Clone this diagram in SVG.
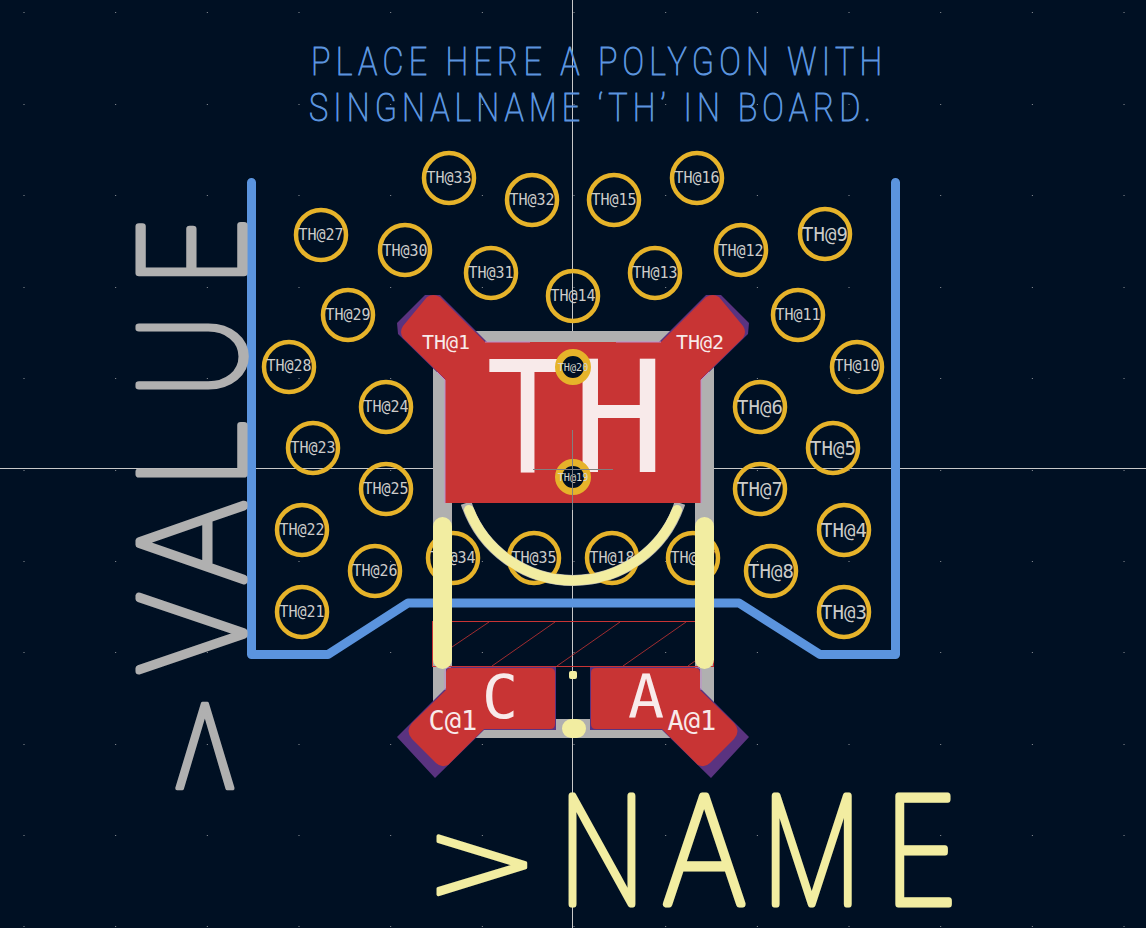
<svg xmlns="http://www.w3.org/2000/svg" xmlns:xlink="http://www.w3.org/1999/xlink" width="1146" height="928" viewBox="0 0 1146 928">
<style>
.c{fill:none;stroke:#e6b32a;stroke-width:4.5}
.v{fill:#001023;stroke:#e6b32a;stroke-width:7}
text{font-family:"DejaVu Sans Mono","Liberation Mono",monospace}
.l{fill:#cfcecb;font-size:15px;text-anchor:middle;opacity:.99}
.m{fill:#cfcecb;font-size:19px;text-anchor:middle;opacity:.99}
.s{fill:#d8d8d0;font-size:10.2px;text-anchor:middle;opacity:.99}
.p{fill:#f8eaea;font-size:20px;text-anchor:middle}
.q{fill:#f8eaea;font-size:27px;text-anchor:middle}
.b{fill:#f8eaea;text-anchor:middle}
.note{font-family:Roboto,Inter,sans-serif;font-weight:100;font-size:38px;fill:#5b94de;stroke:#5b94de;stroke-width:1}
.big{font-family:Inter,Roboto,sans-serif;font-weight:100;stroke-linejoin:round;stroke-linecap:round}
.gt{font-family:"DejaVu Sans",sans-serif;stroke-width:3.5}
</style>
<defs>
<g id="tp"><path fill="#5a3380" d="M397 323L425 295H440L487 342H520V380H445L398 334Z"/>
<path fill="#c83434" d="M427 297Q433 293 440 297L485 342H573V503H445V379L403 338Q399 332 403 326Z"/>
<path fill="none" stroke="#c08ccc" d="M437 372L445 380V503M485 342H530"/></g>
<g id="bp"><path fill="#5a3380" d="M446 667H556V730H484L435 778L397 737L446 688Z"/>
<path fill="#c83434" d="M451 668H550Q555 668 555 673V724Q555 729 550 729H484L448 765Q441 768 436 763L412 739Q405 731 412 723L446 690V673Q446 668 451 668Z"/>
<path fill="none" stroke="#c08ccc" d="M445 690V672Q445 667 451 667"/></g>
</defs>
<rect width="1146" height="928" fill="#001023"/>
<path id="grid" fill="none" stroke="#8f949a" stroke-width="1" stroke-dasharray="1 90.67" d="M23.5 12.5H1146M23.5 104.5H1146M23.5 195.5H1146M23.5 287.5H1146M23.5 378.5H1146M23.5 470.5H1146M23.5 561.5H1146M23.5 652.5H1146M23.5 744.5H1146M23.5 835.5H1146M23.5 926.5H1146"/>
<path id="axes" fill="none" stroke="#c8c8c8" stroke-width="1" d="M572.5 0V928M0 468.5H1146"/>
<g id="fab" fill="none" stroke="#b0b0b0">
<rect x="442.5" y="340.5" width="262" height="388" stroke-width="19"/>
<path d="M466.1 503A112.500 112.500 0 0 0 679.900 503" stroke-width="11"/>
</g>
<g id="padTH1"><use xlink:href="#tp" href="#tp"/><use xlink:href="#tp" href="#tp" transform="matrix(-1 0 0 1 1146 0)"/></g>
<g id="padC"><use xlink:href="#bp" href="#bp"/></g>
<g id="padA"><use xlink:href="#bp" href="#bp" transform="matrix(-1 0 0 1 1146 0)"/></g>
<g id="labels">
<text class="p" x="446" y="349">TH@1</text>
<text class="p" x="700" y="349">TH@2</text>
<text class="b" font-size="155" y="472"><tspan x="527.500" textLength="82.600" lengthAdjust="spacingAndGlyphs">T</tspan><tspan x="619">H</tspan></text>
<text class="b" x="500" y="718" font-size="60">C</text>
<text class="b" x="646" y="718" font-size="60">A</text>
<text class="q" x="453" y="730">C@1</text>
<text class="q" x="692" y="730">A@1</text>
</g>
<g id="vias">
<g id="th33"><circle class="c" cx="449" cy="178" r="25"/><text class="l" x="449" y="183">TH@33</text></g>
<g id="th32"><circle class="c" cx="532" cy="200" r="25"/><text class="l" x="532" y="205">TH@32</text></g>
<g id="th15"><circle class="c" cx="614" cy="200" r="25"/><text class="l" x="614" y="205">TH@15</text></g>
<g id="th16"><circle class="c" cx="697" cy="178" r="25"/><text class="l" x="697" y="183">TH@16</text></g>
<g id="th27"><circle class="c" cx="321" cy="235" r="25"/><text class="l" x="321" y="240">TH@27</text></g>
<g id="th30"><circle class="c" cx="405" cy="250" r="25"/><text class="l" x="405" y="256">TH@30</text></g>
<g id="th31"><circle class="c" cx="491" cy="273" r="25"/><text class="l" x="491" y="278">TH@31</text></g>
<g id="th14"><circle class="c" cx="573" cy="296" r="25"/><text class="l" x="573" y="301">TH@14</text></g>
<g id="th13"><circle class="c" cx="655" cy="273" r="25"/><text class="l" x="655" y="278">TH@13</text></g>
<g id="th12"><circle class="c" cx="741" cy="250" r="25"/><text class="l" x="741" y="256">TH@12</text></g>
<g id="th9"><circle class="c" cx="825" cy="234" r="25"/><text class="m" x="825" y="241">TH@9</text></g>
<g id="th29"><circle class="c" cx="348" cy="315" r="25"/><text class="l" x="348" y="320">TH@29</text></g>
<g id="th11"><circle class="c" cx="798" cy="315" r="25"/><text class="l" x="798" y="320">TH@11</text></g>
<g id="th28"><circle class="c" cx="289" cy="367" r="25"/><text class="l" x="289" y="371">TH@28</text></g>
<g id="th10"><circle class="c" cx="857" cy="367" r="25"/><text class="l" x="857" y="371">TH@10</text></g>
<g id="th24"><circle class="c" cx="386" cy="407" r="25"/><text class="l" x="386" y="412">TH@24</text></g>
<g id="th6"><circle class="c" cx="760" cy="407" r="25"/><text class="m" x="760" y="414">TH@6</text></g>
<g id="th23"><circle class="c" cx="313" cy="448" r="25"/><text class="l" x="313" y="453">TH@23</text></g>
<g id="th5"><circle class="c" cx="833" cy="448" r="25"/><text class="m" x="833" y="455">TH@5</text></g>
<g id="th25"><circle class="c" cx="386" cy="489" r="25"/><text class="l" x="386" y="494">TH@25</text></g>
<g id="th7"><circle class="c" cx="760" cy="489" r="25"/><text class="m" x="760" y="496">TH@7</text></g>
<g id="th22"><circle class="c" cx="302" cy="530" r="25"/><text class="l" x="302" y="535">TH@22</text></g>
<g id="th4"><circle class="c" cx="844" cy="530" r="25"/><text class="m" x="844" y="537">TH@4</text></g>
<g id="th26"><circle class="c" cx="375" cy="571" r="25"/><text class="l" x="375" y="576">TH@26</text></g>
<g id="th8"><circle class="c" cx="771" cy="571" r="25"/><text class="m" x="771" y="578">TH@8</text></g>
<g id="th21"><circle class="c" cx="302" cy="612" r="25"/><text class="l" x="302" y="617">TH@21</text></g>
<g id="th3"><circle class="c" cx="844" cy="612" r="25"/><text class="m" x="844" y="619">TH@3</text></g>
<g id="th34"><circle class="c" cx="453" cy="558" r="25"/><text class="l" x="453" y="563">TH@34</text></g>
<g id="th35"><circle class="c" cx="534" cy="558" r="25"/><text class="l" x="534" y="563">TH@35</text></g>
<g id="th18"><circle class="c" cx="612" cy="558" r="25"/><text class="l" x="612" y="563">TH@18</text></g>
<g id="th17"><circle class="c" cx="693" cy="558" r="25"/><text class="l" x="693" y="563">TH@17</text></g>
<g id="th20"><circle class="v" cx="573" cy="367" r="14.500"/><text class="s" x="573" y="370.500">TH@20</text></g>
<g id="th19"><circle class="v" cx="573" cy="477" r="14.500"/><text class="s" x="573" y="481">TH@19</text></g>
</g>
<path id="cross" fill="none" stroke="#808080" stroke-width="1" d="M533 469.500H613M572.500 430V510"/>
<g id="court" fill="none" stroke="#c83434" stroke-width="1">
<rect x="432.500" y="621.500" width="281" height="45"/>
<path d="M452 647L489 622M492 666L555 622M557 666L620 622M623 666L686 622M688 666L695 661" stroke-width=".8"/>
</g>
<path id="outline" fill="none" stroke="#5b94de" stroke-width="9" stroke-linecap="round" stroke-linejoin="round" d="M251.500 182.500V654.500H328L408 603H739L820 654.500H895.500V182.500"/>
<g id="silk" fill="none" stroke="#f2eda1" stroke-linecap="round">
<path stroke-width="19" d="M442.500 526.500V659.500M704.500 526.500V659.500M571.500 728.500H576.500"/>
<path stroke-width="10" d="M469 510A112 112 0 0 0 677 510"/>
<rect x="569" y="671" width="8" height="8" rx="2" fill="#f2eda1" stroke="none"/>
</g>
<text id="note1" class="note" transform="scale(.85 1)" x="366" y="75" textLength="672" lengthAdjust="spacing">PLACE HERE A POLYGON WITH</text>
<text id="note2" class="note" transform="scale(.85 1)" x="363.500" y="121" textLength="661" lengthAdjust="spacing">SINGNALNAME ‘TH’ IN BOARD.</text>
<text id="value" class="big" transform="translate(244 790) rotate(-90)" font-size="145" fill="#b0b0b0" stroke="#b0b0b0" stroke-width="7"><tspan class="gt" font-size="113" x="-12.600" y="-4.300" textLength="113" lengthAdjust="spacingAndGlyphs">&gt;</tspan><tspan x="114.600" y="0" textLength="84" lengthAdjust="spacingAndGlyphs">V</tspan><tspan x="204.600" textLength="86" lengthAdjust="spacingAndGlyphs">A</tspan><tspan x="301" textLength="72" lengthAdjust="spacingAndGlyphs">L</tspan><tspan x="392" textLength="83" lengthAdjust="spacingAndGlyphs">U</tspan><tspan x="503" textLength="71" lengthAdjust="spacingAndGlyphs">E</tspan></text>
<text id="name" class="big" font-size="148" fill="#f2eda1" stroke="#f2eda1" stroke-width="7" y="904"><tspan class="gt" font-size="117" x="424" y="902" textLength="115.800" lengthAdjust="spacingAndGlyphs">&gt;</tspan><tspan x="558.500" y="904" textLength="87" lengthAdjust="spacingAndGlyphs">N</tspan><tspan x="661.700" textLength="85" lengthAdjust="spacingAndGlyphs">A</tspan><tspan x="761.700" textLength="100" lengthAdjust="spacingAndGlyphs">M</tspan><tspan x="884" textLength="74" lengthAdjust="spacingAndGlyphs">E</tspan></text>
</svg>
